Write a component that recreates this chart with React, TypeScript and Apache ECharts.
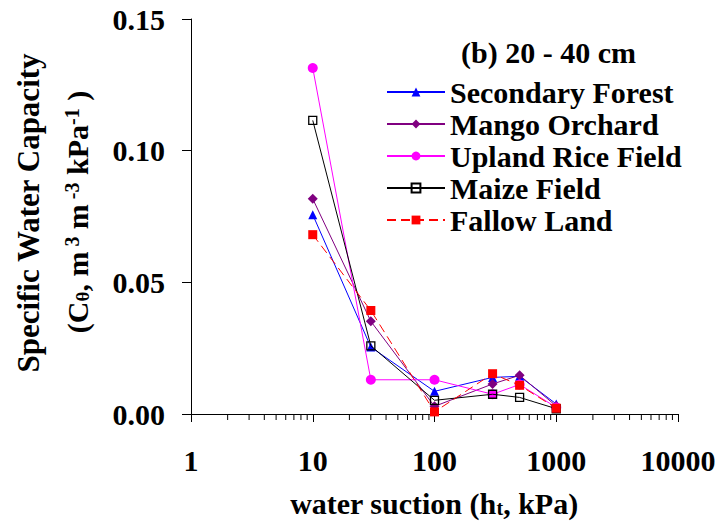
import React, { useEffect, useRef } from 'react';
import * as echarts from 'echarts';

const FONT = '"Liberation Serif", "Times New Roman", serif';

const suction = [10, 30, 100, 300, 500, 1000];
const secondaryForest = [0.0757, 0.0254, 0.0086, 0.0139, 0.0143, 0.0038];
const mangoOrchard = [0.0817, 0.0352, 0.0029, 0.0114, 0.0147, 0.003];
const uplandRice = [0.1314, 0.013, 0.013, 0.0075, 0.0112, 0.0025];
const maizeField = [0.1115, 0.0259, 0.0052, 0.0075, 0.0063, 0.002];
const fallowLand = [0.0681, 0.0393, 0.0008, 0.0153, 0.0109, 0.0022];

const seriesNames = ['Secondary Forest', 'Mango Orchard', 'Upland Rice Field', 'Maize Field', 'Fallow Land'];
const xTickLabels = ['1', '10', '100', '1000', '10000'];
const yTickLabels = ['0.00', '0.05', '0.10', '0.15'];
const xMinorTicks = [
  2, 3, 4, 5, 6, 7, 8, 9,
  20, 30, 40, 50, 60, 70, 80, 90,
  200, 300, 400, 500, 600, 700, 800, 900,
  2000, 3000, 4000, 5000, 6000, 7000, 8000, 9000,
];

const pair = (ys: number[]) => suction.map((x, i) => [x, ys[i]]);

export default function App() {
  const ref = useRef<HTMLDivElement>(null);
  useEffect(() => {
    if (!ref.current) return;
    const chart = echarts.init(ref.current, null, { renderer: 'svg' });
    const base = { fontFamily: FONT, fontWeight: 'bold' as const, color: '#000' };
    const lineBase = (name: string, data: number[], color: string, symbol: string, size: number, extra: any = {}) => ({
      name,
      type: 'line',
      data: pair(data),
      symbol,
      symbolSize: size,
      showSymbol: true,
      color,
      lineStyle: { color, width: 1, ...(extra.lineStyle || {}) },
      itemStyle: { color, ...(extra.itemStyle || {}) },
      z: extra.z || 2,
    });
    chart.setOption({
      animation: false,
      backgroundColor: '#fff',
      grid: { left: 191, right: 42, top: 19, bottom: 109, containLabel: false },
      xAxis: {
        type: 'log',
        logBase: 10,
        min: 1,
        max: 10000,
        axisLine: { show: true, lineStyle: { color: '#000', width: 1 } },
        axisTick: { show: true, length: 8, lineStyle: { color: '#000', width: 1 } },
        splitLine: { show: false },
        axisLabel: {
          ...base,
          fontSize: 30,
          margin: 31,
          formatter: (v: number) => xTickLabels[Math.round(Math.log10(v))] ?? String(v),
        },
      },
      yAxis: {
        type: 'value',
        min: 0,
        max: 0.15,
        interval: 0.05,
        axisLine: { show: true, lineStyle: { color: '#000', width: 1 } },
        axisTick: { show: true, length: 9, lineStyle: { color: '#000', width: 1 } },
        splitLine: { show: false },
        axisLabel: {
          ...base,
          fontSize: 30,
          margin: 26,
          formatter: (v: number) => yTickLabels[Math.round(v / 0.05)] ?? v.toFixed(2),
        },
      },
      legend: {
        data: seriesNames,
        orient: 'vertical',
        left: 386,
        top: 76,
        padding: 0,
        itemGap: 0,
        itemWidth: 58,
        itemHeight: 11,
        selectedMode: false,
        textStyle: { ...base, fontSize: 30, lineHeight: 32 },
      },
      graphic: [
        {
          type: 'text',
          x: 461,
          y: 52,
          style: { text: '(b) 20 - 40 cm', font: `bold 30px ${FONT}`, fill: '#000', align: 'left', verticalAlign: 'middle' },
        },
        {
          type: 'text',
          x: 28,
          y: 213,
          rotation: Math.PI / 2,
          style: { text: 'Specific Water Capacity', font: `bold 31px ${FONT}`, fill: '#000', align: 'center', verticalAlign: 'middle' },
        },
        {
          type: 'text',
          x: 77,
          y: 212,
          rotation: Math.PI / 2,
          style: {
            text: '{m|(C}{sub|θ}{m|, m}{sup| 3}{m| m}{sup| -3}{m| kPa}{sup|-1}{m| )}',
            fill: '#000',
            align: 'center',
            verticalAlign: 'middle',
            rich: {
              m: { fontFamily: FONT, fontWeight: 'bold', fontSize: 30, lineHeight: 30, verticalAlign: 'bottom', fill: '#000' },
              sup: { fontFamily: FONT, fontWeight: 'bold', fontSize: 20, lineHeight: 14, padding: [0, 0, 20, 0], verticalAlign: 'top', fill: '#000' },
              sub: { fontFamily: FONT, fontWeight: 'bold', fontSize: 19, lineHeight: 14, verticalAlign: 'bottom', fill: '#000' },
            },
          },
        },
        {
          type: 'text',
          x: 434,
          y: 503,
          style: {
            text: '{m|water suction (h}{sub|t}{m|, kPa)}',
            fill: '#000',
            align: 'center',
            verticalAlign: 'middle',
            rich: {
              m: { fontFamily: FONT, fontWeight: 'bold', fontSize: 30, lineHeight: 30, verticalAlign: 'middle', fill: '#000' },
              sub: { fontFamily: FONT, fontWeight: 'bold', fontSize: 20, lineHeight: 14, verticalAlign: 'bottom', fill: '#000' },
            },
          },
        },
      ],
      series: [
        {
          name: 'minorTicks',
          type: 'custom',
          silent: true,
          clip: false,
          data: xMinorTicks.map((v) => [v, 0]),
          renderItem: (params: any, api: any) => {
            const p = api.coord([api.value(0), 0]);
            return {
              type: 'line',
              shape: { x1: p[0], y1: p[1], x2: p[0], y2: p[1] + 6 },
              style: { stroke: '#000', lineWidth: 1 },
            };
          },
        },
        lineBase(seriesNames[0], secondaryForest, '#0000FF', 'triangle', 9, { z: 2 }),
        lineBase(seriesNames[1], mangoOrchard, '#800080', 'diamond', 10, { z: 3 }),
        lineBase(seriesNames[2], uplandRice, '#FF00FF', 'circle', 10, { z: 4 }),
        lineBase(seriesNames[3], maizeField, '#000000', 'rect', 8, {
          z: 5,
          itemStyle: { color: 'rgba(255,255,255,0)', borderColor: '#000', borderWidth: 1.3 },
        }),
        lineBase(seriesNames[4], fallowLand, '#FF0000', 'rect', 9, {
          z: 6,
          lineStyle: { type: [9, 5] },
        }),
      ],
    });
    return () => chart.dispose();
  }, []);
  return <div ref={ref} style={{ position: 'fixed', left: 0, top: 0, width: 720, height: 523 }} />;
}
